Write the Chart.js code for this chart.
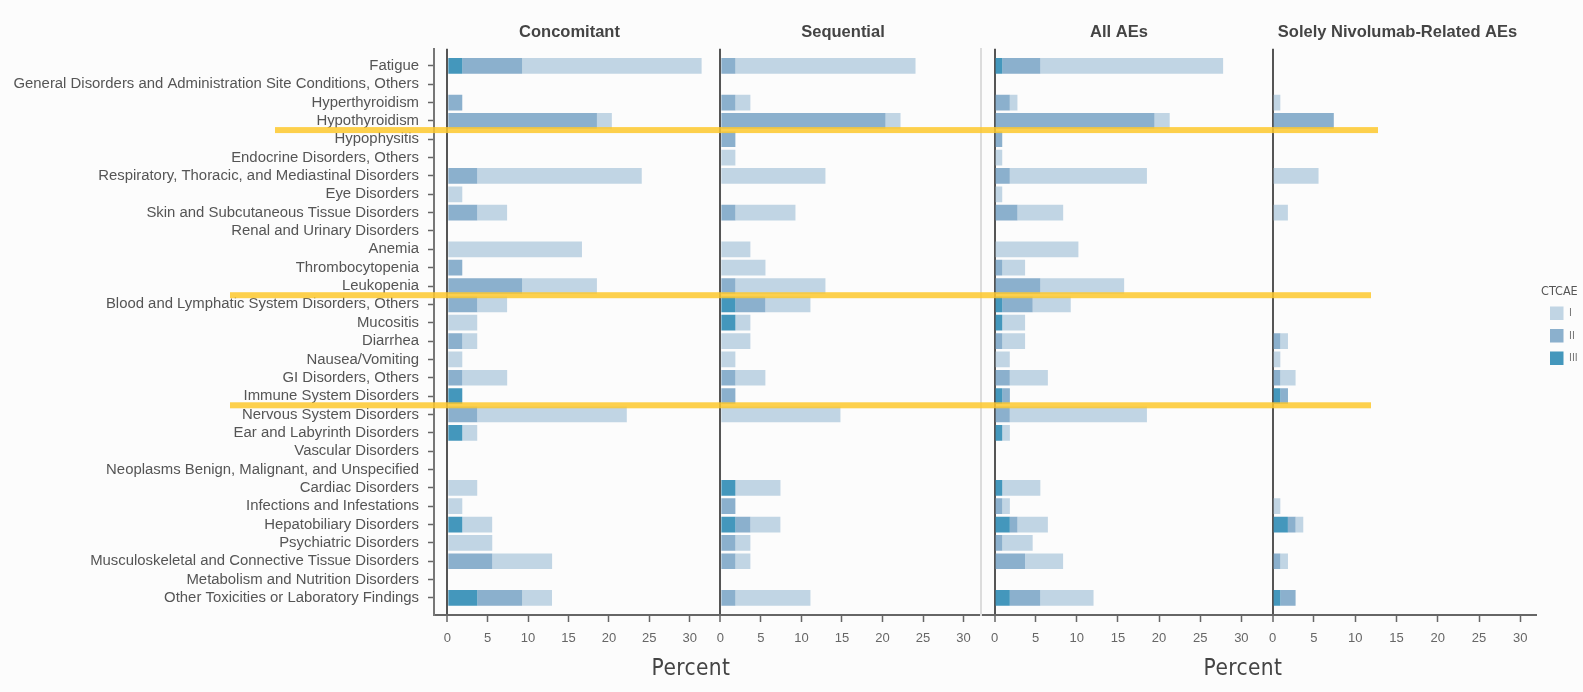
<!DOCTYPE html>
<html>
<head>
<meta charset="utf-8">
<title>Adverse events by CTCAE grade</title>
<script src="https://cdn.jsdelivr.net/npm/chart.js@4.4.0/dist/chart.umd.min.js"></script>
<style>
  html, body { margin: 0; padding: 0; background: #fcfcfc; }
  #stage { position: relative; width: 1583px; height: 692px; overflow: hidden; }
  #stage canvas { position: absolute; left: 0; top: 0; }
  #legendCanvas { left: 1541px !important; top: 285px !important; }
</style>
</head>
<body>
<div id="stage">
  <canvas id="panelConcomitant" width="1583" height="692"></canvas>
  <canvas id="panelSequential" width="1583" height="692"></canvas>
  <canvas id="panelAll" width="1583" height="692"></canvas>
  <canvas id="panelSole" width="1583" height="692"></canvas>
  <canvas id="legendCanvas" width="38" height="240"></canvas>
</div>
<script>
// Adverse event categories, top to bottom
const CATEGORIES = [
  'Fatigue',
  'General Disorders and Administration Site Conditions, Others',
  'Hyperthyroidism',
  'Hypothyroidism',
  'Hypophysitis',
  'Endocrine Disorders, Others',
  'Respiratory, Thoracic, and Mediastinal Disorders',
  'Eye Disorders',
  'Skin and Subcutaneous Tissue Disorders',
  'Renal and Urinary Disorders',
  'Anemia',
  'Thrombocytopenia',
  'Leukopenia',
  'Blood and Lymphatic System Disorders, Others',
  'Mucositis',
  'Diarrhea',
  'Nausea/Vomiting',
  'GI Disorders, Others',
  'Immune System Disorders',
  'Nervous System Disorders',
  'Ear and Labyrinth Disorders',
  'Vascular Disorders',
  'Neoplasms Benign, Malignant, and Unspecified',
  'Cardiac Disorders',
  'Infections and Infestations',
  'Hepatobiliary Disorders',
  'Psychiatric Disorders',
  'Musculoskeletal and Connective Tissue Disorders',
  'Metabolism and Nutrition Disorders',
  'Other Toxicities or Laboratory Findings'
];

const PANEL_TITLES = ['Concomitant', 'Sequential', 'All AEs', 'Solely Nivolumab-Related AEs'];
const GRADES = ['I', 'II', 'III'];
const X_TICKS = [0, 5, 10, 15, 20, 25, 30];

// Percent of patients per grade (segment lengths)
const CONC_I   = [22.22,0,0,1.85,0,0,20.37,1.85,3.70,0,16.67,0,9.26,3.70,3.70,1.85,1.85,5.56,0,18.52,1.85,0,0,3.70,1.85,3.70,5.56,7.41,0,3.70];
const CONC_II  = [7.41,0,1.85,18.52,0,0,3.70,0,3.70,0,0,1.85,9.26,3.70,0,1.85,0,1.85,0,3.70,0,0,0,0,0,0,0,5.56,0,5.56];
const CONC_III = [1.85,0,0,0,0,0,0,0,0,0,0,0,0,0,0,0,0,0,1.85,0,1.85,0,0,0,0,1.85,0,0,0,3.70];

const SEQ_I   = [22.22,0,1.85,1.85,0,1.85,12.96,0,7.41,0,3.70,5.56,11.11,5.56,1.85,3.70,1.85,3.70,0,14.81,0,0,0,5.56,0,3.70,1.85,1.85,0,9.26];
const SEQ_II  = [1.85,0,1.85,20.37,1.85,0,0,0,1.85,0,0,0,1.85,3.70,0,0,0,1.85,1.85,0,0,0,0,0,1.85,1.85,1.85,1.85,0,1.85];
const SEQ_III = [0,0,0,0,0,0,0,0,0,0,0,0,0,1.85,1.85,0,0,0,0,0,0,0,0,1.85,0,1.85,0,0,0,0];

const ALL_I   = [22.22,0,0.93,1.85,0,0.93,16.67,0.93,5.56,0,10.19,2.78,10.19,4.63,2.78,2.78,1.85,4.63,0,16.67,0.93,0,0,4.63,0.93,3.70,3.70,4.63,0,6.48];
const ALL_II  = [4.63,0,1.85,19.44,0.93,0,1.85,0,2.78,0,0,0.93,5.56,3.70,0,0.93,0,1.85,0.93,1.85,0,0,0,0,0.93,0.93,0.93,3.70,0,3.70];
const ALL_III = [0.93,0,0,0,0,0,0,0,0,0,0,0,0,0.93,0.93,0,0,0,0.93,0,0.93,0,0,0.93,0,1.85,0,0,0,1.85];

const SOLE_I   = [0,0,0.93,0,0,0,5.56,0,1.85,0,0,0,0,0,0,0.93,0.93,1.85,0,0,0,0,0,0,0.93,0.93,0,0.93,0,0];
const SOLE_II  = [0,0,0,7.41,0,0,0,0,0,0,0,0,0,0,0,0.93,0,0.93,0.93,0,0,0,0,0,0,0.93,0,0.93,0,1.85];
const SOLE_III = [0,0,0,0,0,0,0,0,0,0,0,0,0,0,0,0,0,0,0.93,0,0,0,0,0,0,1.85,0,0,0,0.93];

// ---- styling ----
const FONT = "'Liberation Sans', Arial, sans-serif";
const NARROW = "'Liberation Sans Narrow', 'DejaVu Sans Condensed', 'Liberation Sans', sans-serif";
const GRADE_COLORS = {
  I: 'rgba(170,198,219,0.72)',
  II: 'rgba(110,156,192,0.80)',
  III: 'rgba(40,135,178,0.87)'
};
const PAGE_W = 1583;
const TITLE_PADDING = { top: 23, bottom: 6 };
const X_AXIS_HEIGHT = 77;

Chart.defaults.font.family = FONT;
Chart.defaults.animation = false;

// Caption placed under the axis, relative to the plot's right edge
const axisCaption = {
  id: 'axisCaption',
  afterDraw(chart, args, opts) {
    if (!opts || !opts.text) return;
    const { ctx, chartArea } = chart;
    ctx.save();
    ctx.font = `${opts.size}px ${NARROW}`;
    if ('letterSpacing' in ctx) ctx.letterSpacing = opts.letterSpacing || '0px';
    ctx.fillStyle = opts.color;
    ctx.textAlign = 'center';
    ctx.textBaseline = 'middle';
    ctx.fillText(opts.text, chartArea.right + opts.dx, chartArea.bottom + opts.dy);
    ctx.restore();
  }
};

// Yellow separator bands laid between category rows
const rowHighlights = {
  id: 'rowHighlights',
  afterDraw(chart, args, opts) {
    if (!opts || !opts.bands) return;
    const { ctx } = chart;
    const yScale = chart.scales.y;
    ctx.save();
    ctx.fillStyle = opts.color;
    opts.bands.forEach(b => {
      const y = yScale.getPixelForValue(b.between);
      ctx.fillRect(b.from, y - opts.thickness / 2, b.to - b.from, opts.thickness);
    });
    ctx.restore();
  }
};

const toPoints = arr => arr.map((v, k) => ({ x: v, y: k }));

function gradeDatasets(seriesI, seriesII, seriesIII) {
  const common = { barPercentage: 0.856, categoryPercentage: 1, borderWidth: 0 };
  return [
    Object.assign({ label: GRADES[2], data: toPoints(seriesIII), backgroundColor: GRADE_COLORS.III }, common),
    Object.assign({ label: GRADES[1], data: toPoints(seriesII), backgroundColor: GRADE_COLORS.II }, common),
    Object.assign({ label: GRADES[0], data: toPoints(seriesI), backgroundColor: GRADE_COLORS.I }, common)
  ];
}

function xScale() {
  return {
    type: 'linear',
    min: -1.65,
    max: 31.9,
    stacked: true,
    afterBuildTicks: s => { s.ticks = X_TICKS.map(v => ({ value: v })); },
    afterFit: s => { s.height = X_AXIS_HEIGHT; },
    border: { display: true, color: '#666', width: 2 },
    grid: {
      display: true,
      drawOnChartArea: true,
      color: c => (c.tick && c.tick.value === 0) ? '#555' : 'rgba(0,0,0,0)',
      lineWidth: c => (c.tick && c.tick.value === 0) ? 2 : 1,
      drawTicks: true,
      tickLength: 7,
      tickColor: '#666',
      tickWidth: 1.5
    },
    ticks: { color: '#666', font: { size: 13 }, padding: 9, maxRotation: 0, autoSkip: false }
  };
}

function yScale(labelWidth, showLabels, borderColor) {
  return {
    type: 'linear',
    reverse: true,
    offset: false,
    min: -0.93,
    max: 29.93,
    stacked: true,
    display: showLabels || !!borderColor,
    afterBuildTicks: s => { s.ticks = CATEGORIES.map((_, k) => ({ value: k })); },
    afterFit: s => { s.width = labelWidth; },
    border: { display: !!borderColor, color: borderColor || '#777', width: 2 },
    grid: {
      display: true,
      offset: false,
      drawOnChartArea: false,
      drawTicks: showLabels,
      tickLength: 6,
      tickColor: '#666',
      tickWidth: 1.5
    },
    ticks: {
      display: showLabels,
      autoSkip: false,
      padding: 9,
      color: '#555',
      font: { size: 14.9 },
      callback: v => CATEGORIES[v]
    }
  };
}

function makePanel(id, title, seriesI, seriesII, seriesIII, frame, extraPlugins, pluginOpts) {
  const showLabels = !!frame.labels;
  return new Chart(document.getElementById(id), {
    type: 'bar',
    data: { datasets: gradeDatasets(seriesI, seriesII, seriesIII) },
    options: {
      indexAxis: 'y',
      responsive: false,
      devicePixelRatio: 1,
      animation: false,
      layout: {
        padding: {
          left: showLabels ? 0 : frame.left,
          right: PAGE_W - frame.right,
          top: 0,
          bottom: 0
        }
      },
      scales: {
        x: xScale(),
        y: yScale(showLabels ? frame.left : 0, showLabels, frame.border)
      },
      plugins: Object.assign({
        legend: { display: false },
        tooltip: { enabled: false },
        title: {
          display: true,
          text: title,
          fullSize: false,
          color: '#444',
          font: { size: 16.5, weight: 'bold' },
          padding: TITLE_PADDING
        }
      }, pluginOpts || {})
    },
    plugins: extraPlugins || []
  });
}

const captionOpts = { text: 'Percent', size: 22.5, color: '#444', letterSpacing: '0.4px', dx: -14, dy: 54 };

makePanel('panelConcomitant', PANEL_TITLES[0], CONC_I, CONC_II, CONC_III,
  { left: 434, right: 705, labels: true, border: '#777' },
  [axisCaption], { axisCaption: captionOpts });

makePanel('panelSequential', PANEL_TITLES[1], SEQ_I, SEQ_II, SEQ_III,
  { left: 707, right: 979 });

makePanel('panelAll', PANEL_TITLES[2], ALL_I, ALL_II, ALL_III,
  { left: 981, right: 1257, border: '#dcdcdc' },
  [axisCaption], { axisCaption: captionOpts });

makePanel('panelSole', PANEL_TITLES[3], SOLE_I, SOLE_II, SOLE_III,
  { left: 1259, right: 1536 },
  [rowHighlights], {
    rowHighlights: {
      color: 'rgba(253,200,45,0.85)',
      thickness: 6,
      bands: [
        { between: 3.5, from: 275, to: 1378 },
        { between: 12.5, from: 230, to: 1371 },
        { between: 18.5, from: 230, to: 1371 }
      ]
    }
  });

// Grade legend
new Chart(document.getElementById('legendCanvas'), {
  type: 'bar',
  data: { labels: [], datasets: gradeDatasets([], [], []) },
  options: {
    responsive: false,
    devicePixelRatio: 1,
    animation: false,
    layout: { padding: 0 },
    scales: { x: { display: false }, y: { display: false } },
    plugins: {
      tooltip: { enabled: false },
      legend: {
        display: true,
        position: 'top',
        align: 'start',
        reverse: true,
        labels: {
          boxWidth: 13.5,
          boxHeight: 13.5,
          padding: 9,
          color: '#777',
          font: { family: NARROW, size: 11 }
        },
        title: {
          display: true,
          text: 'CTCAE',
          color: '#555',
          padding: 0,
          font: { family: NARROW, size: 12.5, lineHeight: 1 }
        }
      }
    }
  }
});
</script>
</body>
</html>
